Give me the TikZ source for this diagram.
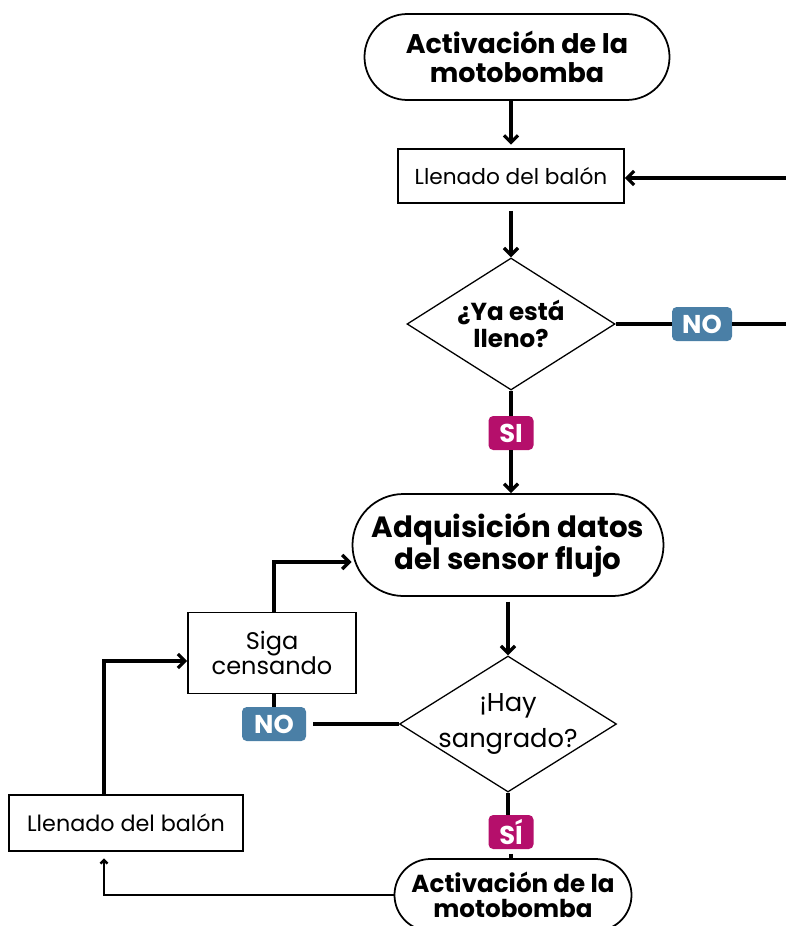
\documentclass[tikz,border=0pt]{standalone}
\usepackage{fontspec}
\setmainfont{Poppins}
\usetikzlibrary{shapes.geometric,arrows.meta}
\definecolor{noblue}{HTML}{4A7FA6}
\definecolor{simag}{HTML}{B50F6B}
\begin{document}
\begin{tikzpicture}[
    x=0.03cm, y=-0.03cm,
    terminal/.style={rectangle, draw, line width=1.5pt, inner sep=0pt, align=center, font=\bfseries},
    process/.style={rectangle, draw, line width=1.3pt, inner sep=0pt, align=center},
    decision/.style={diamond, draw, line width=1.1pt, inner sep=0pt},
    tagno/.style={rectangle, fill=noblue, rounded corners=4pt, text=white, font=\bfseries\fontsize{22}{24}\selectfont, minimum width=1.8cm, minimum height=1.02cm, inner sep=0pt},
    tagsi/.style={tagno, fill=simag, minimum width=1.35cm},
    flow/.style={line width=2.8pt, -{Straight Barb[length=6pt,width=12pt]}},
    link/.style={line width=2.8pt}
  ]
  \clip (0,0) rectangle (786,926);
  % upper loop
  \node[terminal, minimum width=9.15cm, minimum height=2.58cm, rounded corners=1.29cm,
    font=\bfseries\fontsize{23}{25}\selectfont] (motor1) at (517,57) {Activación de la\\motobomba};
  \node[process, minimum width=6.78cm, minimum height=1.62cm,
    font=\fontsize{18.5}{21}\selectfont] (llenado1) at (511,176) {Llenado del balón};
  \node[decision, minimum width=6.24cm, minimum height=3.96cm,
    label={[align=center, font=\bfseries\fontsize{21}{23}\selectfont]center:{¿Ya está\\lleno?}}] (lleno) at (511,324) {};
  \node[tagno] (no1) at (702,324) {NO};
  \node[tagsi] (si1) at (511,433) {SI};
  \coordinate (retorno) at (786,178);
  \coordinate (salida) at (786,324);

  % lower loop
  \node[terminal, minimum width=9.33cm, minimum height=3.06cm, rounded corners=1.53cm,
    font=\bfseries\fontsize{25}{27}\selectfont] (sensor) at (508,545) {Adquisición datos\\del sensor flujo};
  \node[decision, minimum width=6.51cm, minimum height=4.08cm,
    label={[align=center, font=\fontsize{22}{30}\selectfont]center:{¡Hay\\sangrado?}}] (sangrado) at (508,724) {};
  \node[process, minimum width=5.04cm, minimum height=2.43cm,
    font=\fontsize{20.5}{22}\selectfont] (siga) at (272,653) {Siga\\censando};
  \node[tagno, minimum width=1.92cm] (no2) at (274,724) {NO};
  \node[tagsi] (si2) at (511,832) {SÍ};
  \node[terminal, minimum width=7.11cm, minimum height=2.16cm, rounded corners=1.08cm,
    font=\bfseries\fontsize{21}{21}\selectfont] (motor2) at (513,895) {Activación de la\\motobomba};
  \node[process, minimum width=7.02cm, minimum height=1.68cm,
    font=\fontsize{19}{21}\selectfont] (llenado2) at (126,823) {Llenado del balón};

  \draw[flow, shorten >=3pt] (llenado1.north |- motor1.south) -- (llenado1.north);
  \draw[flow] (retorno) -- (retorno -| llenado1.east);
  \draw[flow, shorten <=6pt] (llenado1) -- (lleno);
  \draw[link] (lleno.east) -- (no1.west);
  \draw[link] (no1.east) -- (salida);
  \draw[link] (lleno.south) -- (si1.north);
  \draw[flow] (si1.south) -- (si1.south |- sensor.north);
  \draw[flow, shorten <=4pt] (sensor.south) -- (sangrado.north);
  \draw[link, shorten >=6pt] (sangrado.west) -- (sangrado.west -| no2.east);
  \draw[link] (no2.north) -- (no2.north |- siga.south);
  \draw[flow] (no2.north |- siga.north) |- ([yshift=-0.51cm]sensor.west);
  \draw[link] (sangrado.south) -- (sangrado.south |- si2.north);
  \draw[link, shorten <=4pt] (si2.south) -- (si2.south |- motor2.north);
  \draw[line width=2pt, -{Straight Barb[length=3pt,width=6pt]}] (motor2.west) -| ([xshift=-0.66cm, yshift=-0.2cm]llenado2.south);
  \draw[flow] ([xshift=-0.66cm]llenado2.north) |- ([yshift=-0.24cm]siga.west);
\end{tikzpicture}
\end{document}
